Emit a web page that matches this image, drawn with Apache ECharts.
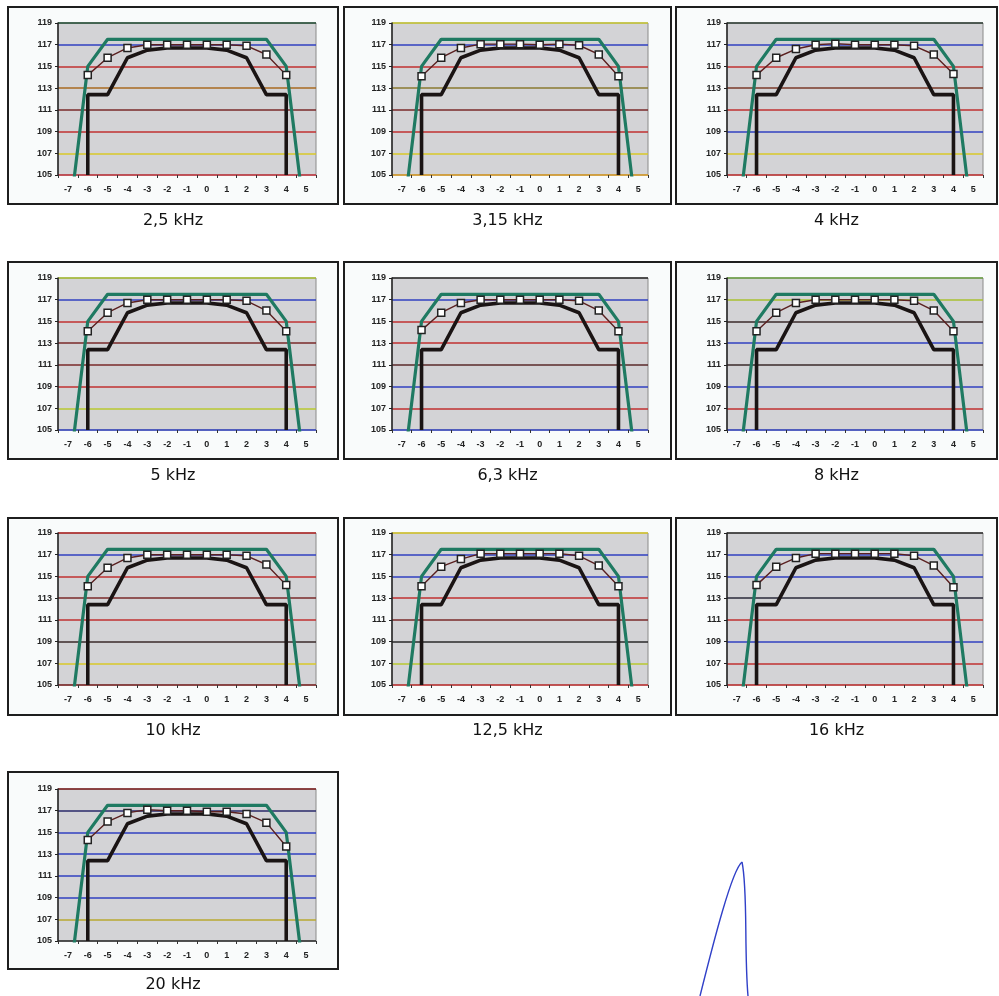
<!DOCTYPE html>
<html><head><meta charset="utf-8">
<script src="https://cdn.jsdelivr.net/npm/echarts@6/dist/echarts.min.js"></script>
<style>html,body{margin:0;padding:0;background:#fff}#c{width:999px;height:996px}</style>
</head><body><div id="c"></div>
<script>
// ---- data ----
const xLabels = [-7,-6,-5,-4,-3,-2,-1,0,1,2,3,4,5];
const yTicks = [105,107,109,111,113,115,117,119];
const titles = ['2,5 kHz','3,15 kHz','4 kHz','5 kHz','6,3 kHz','8 kHz','10 kHz','12,5 kHz','16 kHz','20 kHz'];

// upper tolerance (green)
const upperX = [-7,-6,-5,3,4,5];
const upperY = [100,115,117.5,117.5,115,100];
// lower tolerance (black)
const lowerX = [-6,-6,-5,-4,-3,-2,-1,0,1,2,3,4,4];
const lowerY = [105,112.4,112.4,115.8,116.5,116.7,116.7,116.7,116.5,115.8,112.4,112.4,105];
// measured (white squares)
const measuredX = [-6,-5,-4,-3,-2,-1,0,1,2,3,4];
const m2_5k  = [114.2,115.8,116.7,117.0,117.0,117.0,117.0,117.0,116.9,116.1,114.2];
const m3_15k = [114.1,115.8,116.7,117.05,117.05,117.05,117.0,117.05,116.95,116.1,114.1];
const m4k    = [114.2,115.8,116.6,117.0,117.1,117.0,117.0,117.0,116.9,116.1,114.3];
const m5k    = [114.1,115.8,116.7,117.0,117.0,117.0,117.0,117.0,116.9,116.0,114.1];
const m6_3k  = [114.2,115.8,116.7,117.0,117.0,117.0,117.0,117.0,116.9,116.0,114.1];
const m8k    = [114.1,115.8,116.7,117.0,117.0,117.0,117.0,117.0,116.9,116.0,114.1];
const m10k   = [114.1,115.8,116.7,117.0,117.0,117.0,117.0,117.0,116.9,116.1,114.2];
const m12_5k = [114.1,115.9,116.6,117.1,117.1,117.1,117.1,117.1,116.9,116.0,114.1];
const m16k   = [114.2,115.9,116.7,117.1,117.1,117.1,117.1,117.1,116.9,116.0,114.0];
const m20k   = [114.3,116.0,116.8,117.1,117.0,117.0,116.9,116.9,116.7,115.9,113.7];
const measuredSets = [m2_5k,m3_15k,m4k,m5k,m6_3k,m8k,m10k,m12_5k,m16k,m20k];

// ---- styling (scan-tinted grid line colours, bottom->top) ----
const gridColors = [
  ['#c0303a','#d8c828','#c03030','#7a2a2a','#a86a20','#c03030','#3040c0','#1e4a30'],
  ['#d89a20','#d8c828','#c03030','#7a2a2a','#8a7a30','#c03030','#3040c0','#c8c830'],
  ['#c03030','#d8c828','#3040c0','#c03030','#7a3a2a','#c03030','#3040c0','#2a3a30'],
  ['#3040c0','#b8c830','#c03030','#7a2a2a','#7a2a2a','#c03030','#3040c0','#a8c030'],
  ['#3040c0','#c03030','#3040c0','#5a2a2a','#c03030','#c03030','#3040c0','#2a2a2a'],
  ['#3040c0','#c03030','#3040c0','#3a2a2a','#3040c0','#3a2a2a','#a8c030','#6aa040'],
  ['#7a2020','#d8c828','#3a2a2a','#c03030','#7a2a2a','#c03030','#3040c0','#b02020'],
  ['#c03030','#b8c830','#2a2a2a','#7a2a2a','#c03030','#3040c0','#3040c0','#d8c828'],
  ['#c03030','#c03030','#3040c0','#c03030','#2a2a3a','#3040c0','#3040c0','#2a2a2a'],
  ['#2a2a2a','#b8a830','#3040c0','#3040c0','#3040c0','#3040c0','#2a2a6a','#7a1a1a']
];
const colBox = [[8,338],[344,671],[676,997]];
const colPlot = [[58,316],[392,648],[727,983]];
const rowBoxTop = [7,262,518,772];
const rowPlotTop = [23,278,533,789];
const rowTitleY = [221,476,731,985];

const grids=[], xAxes=[], yAxes=[], series=[], graphics=[];
const zip=(xs,ys)=>xs.map((x,i)=>[x,ys[i]]);
for (let k=0;k<10;k++){
  const r=Math.floor(k/3), c=k%3;
  const [pl,pr]=colPlot[c];
  grids.push({left:pl, top:rowPlotTop[r], width:pr-pl, height:152, show:true,
    backgroundColor:'#d3d3d6', borderColor:'#8a8a8a', borderWidth:1});
  xAxes.push({type:'value', gridIndex:k, min:-7.5, max:5.5,
    axisLine:{show:false, onZero:false},
    axisTick:{show:true, customValues:[-7.5,-6.5,-5.5,-4.5,-3.5,-2.5,-1.5,-0.5,0.5,1.5,2.5,3.5,4.5,5.5], length:3, lineStyle:{color:'#333'}},
    axisLabel:{customValues:xLabels, formatter:v=>String(v), fontFamily:'Liberation Sans', fontWeight:'bold', fontSize:9, color:'#222', margin:10},
    splitLine:{show:false}});
  yAxes.push({type:'value', gridIndex:k, min:105, max:119, interval:2, position:'left',
    axisLine:{show:true, onZero:false, lineStyle:{color:'#222', width:1.5}},
    axisTick:{show:true, length:3, lineStyle:{color:'#222'}},
    axisLabel:{fontFamily:'Liberation Sans', fontWeight:'bold', fontSize:9, color:'#222', margin:6},
    splitLine:{show:true, lineStyle:{color:gridColors[k], width:1.5}}});
  series.push({type:'line', xAxisIndex:k, yAxisIndex:k, data:zip(upperX,upperY), showSymbol:false, symbol:'none',
    clip:true, lineStyle:{color:'#1f7a62', width:3.2}, z:3, animation:false});
  series.push({type:'line', xAxisIndex:k, yAxisIndex:k, data:zip(lowerX,lowerY), showSymbol:false, symbol:'none',
    clip:true, lineStyle:{color:'#1a1414', width:3.6}, z:4, animation:false});
  series.push({type:'line', xAxisIndex:k, yAxisIndex:k, data:zip(measuredX,measuredSets[k]), symbol:'rect', symbolSize:7,
    clip:true, lineStyle:{color:'#5a2020', width:1.4}, itemStyle:{color:'#ffffff', borderColor:'#222', borderWidth:1.5}, z:5, animation:false});
  const [bl,br]=colBox[c];
  graphics.push({type:'rect', shape:{x:bl,y:rowBoxTop[r],width:br-bl,height:197}, style:{fill:'#f9fbfb', stroke:'#1e1e1e', lineWidth:2}, z:-10, silent:true});
  graphics.push({type:'text', x:(bl+br)/2, y:rowTitleY[r], style:{text:titles[k], fill:'#111', font:'16px "DejaVu Sans"', textAlign:'center', textVerticalAlign:'middle'}, silent:true});
}
// signature stroke (decorative)
graphics.push({type:'bezierCurve', shape:{x1:700,y1:996,cpx1:714,cpy1:940,cpx2:732,cpy2:870,x2:742,y2:862}, style:{fill:null, stroke:'#3040c8', lineWidth:1.4}, silent:true});
graphics.push({type:'bezierCurve', shape:{x1:742,y1:862,cpx1:748,cpy1:890,cpx2:744,cpy2:950,x2:748,y2:996}, style:{fill:null, stroke:'#3040c8', lineWidth:1.4}, silent:true});

const chart=echarts.init(document.getElementById('c'),null,{renderer:'canvas'});
chart.setOption({animation:false, grid:grids, xAxis:xAxes, yAxis:yAxes, series:series, graphic:{elements:graphics}});
</script></body></html>
